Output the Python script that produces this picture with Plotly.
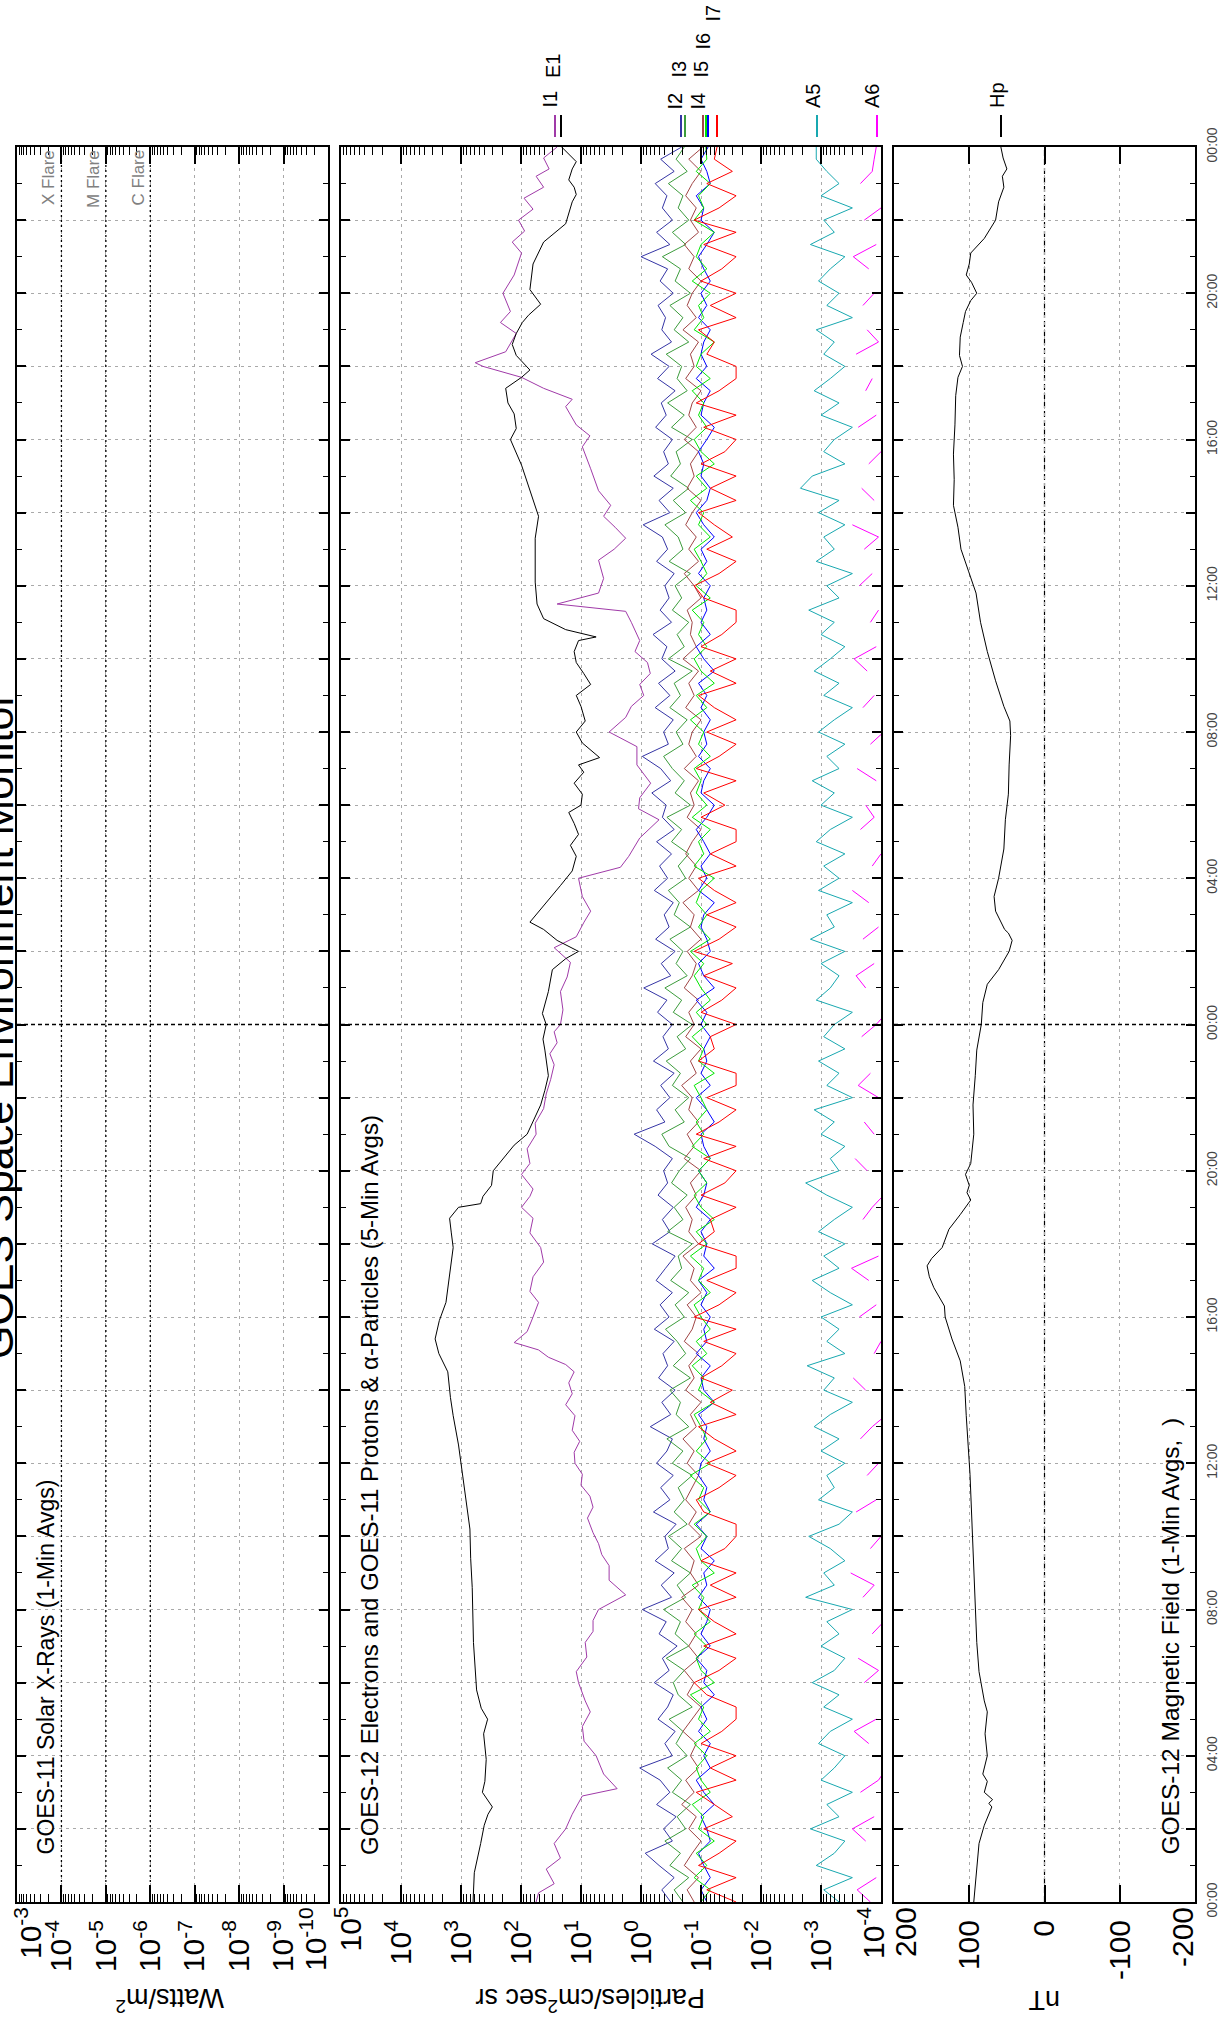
import plotly.graph_objects as go

FONT = "Liberation Sans, Arial, Helvetica, sans-serif"

# ------------------------------------------------------------------ data
# time axis: hours since 00:00 of the first day (two days shown)
t20 = [k / 3 for k in range(145)]          # 20-minute sample times

# GOES-12 E1 electrons (particles/cm2 s sr)
e1_t = [0.0, 0.8, 1.6, 2.1, 2.4, 2.6, 3.0, 3.3, 3.9, 4.6, 5.0, 5.3, 5.8, 6.4, 7.1, 8.6, 9.4,
        10.2, 11.7, 12.5, 13.3, 13.8, 14.5, 15.0, 15.4, 15.9, 16.4, 17.1, 17.9, 18.3, 18.7,
        19.0, 19.1, 19.3, 19.6, 20.0, 20.4, 20.7, 21.0, 21.4, 21.8, 22.2, 22.6, 23.3, 23.6,
        24.0, 24.3, 24.9, 25.5, 25.8, 26.0, 26.3, 26.6, 26.8, 26.9, 27.4, 27.8, 28.2, 28.6,
        28.9, 29.2, 29.5, 29.8, 30.0, 30.3, 30.6, 30.9, 31.1, 31.3, 31.7, 32.0, 32.3, 32.7,
        33.0, 33.3, 33.6, 33.9, 34.2, 34.5, 34.6, 34.8, 35.1, 35.5, 36.1, 36.7, 37.3, 37.9,
        38.6, 39.3, 40.0, 40.3, 40.7, 41.0, 41.4, 41.7, 41.9, 42.3, 42.6, 42.9, 43.2, 43.4,
        43.7, 44.1, 44.8, 45.1, 45.4, 45.9, 46.2, 46.5, 46.7, 46.9, 47.1, 47.4, 47.6, 47.9, 48.0]
e1 = [630, 600, 470, 410, 355, 300, 440, 400, 380, 420, 360, 460, 550, 580, 620, 650, 690,
      710, 930, 1100, 1350, 1500, 1660, 2340, 2700, 2300, 1780, 1550, 1350, 1450, 1550,
      1100, 470, 430, 310, 290, 180, 130, 79, 60, 47, 40, 35, 40, 43,
      38, 44, 35, 30, 18, 11, 25, 42, 71, 63, 35, 22, 14, 12,
      15, 11, 13, 16, 10, 9.5, 13, 9, 11, 4.9, 9.5, 12, 8.5, 10,
      12, 6.9, 9, 12, 13, 11, 5.6, 18, 42, 54, 58, 58, 58, 51,
      71, 98, 150, 120, 130, 165, 180, 98, 71, 120, 140, 120, 95, 75,
      47, 71, 63, 52, 42, 18, 16, 14, 12, 13, 16, 14, 12, 18, 21]

# GOES-11 I1 protons
i1_t = [0.0, 0.25, 0.5, 0.9, 1.2, 1.6, 2.0, 2.4, 2.9, 3.1, 3.5, 4.0, 4.4, 4.8, 5.2, 5.5, 6.0,
        6.3, 6.7, 7.1, 7.4, 7.7, 8.0, 8.4, 8.8, 9.2, 9.5, 9.8, 10.1, 10.5, 10.8, 11.1, 11.4,
        11.7, 12.0, 12.3, 12.6, 12.9, 13.3, 13.6, 13.9, 14.2, 14.5, 14.7, 14.9, 15.1, 15.3,
        15.6, 16.0, 16.4, 16.7, 17.1, 17.5, 17.9, 18.3, 18.7, 19.0, 19.3, 19.5, 19.9, 20.2,
        20.6, 21.0, 21.3, 21.7, 22.1, 22.5, 22.9, 23.2, 23.5, 23.8, 24.0, 24.4, 24.9, 25.3,
        25.7, 26.1, 26.4, 26.8, 27.1, 27.5, 28.0, 28.3, 28.6, 29.1, 29.6, 29.9, 30.2, 30.6,
        31.1, 31.6, 32.0, 32.4, 32.7, 33.0, 33.3, 33.6, 33.9, 34.2, 34.5, 35.0, 35.3, 35.5,
        35.8, 36.2, 36.7, 37.0, 37.3, 37.6, 37.9, 38.2, 38.6, 39.2, 39.8, 40.1, 40.4, 40.9,
        41.1, 41.4, 41.7, 42.0, 42.1, 42.4, 42.9, 43.2, 43.5, 44.0, 44.5, 45.1, 45.4, 45.7,
        46.0, 46.3, 46.6, 46.9, 47.2, 47.4, 47.7, 48.0]
i1 = [56, 51, 28, 38, 22, 28, 18, 14, 9.5, 2.5, 4.2, 5.6, 8.9, 9.5, 7.0, 8.5, 11,
      12, 8.0, 8.5, 6.3, 6.3, 5.1, 1.8, 3.4, 3.4, 4.5, 5.1, 6.3, 7.8, 6.3, 7.1, 10,
      9.5, 12.6, 13, 10.5, 14, 12.6, 18, 14, 16, 13, 18, 35, 51, 130,
      79, 63, 51, 71, 63, 42, 47, 71, 63, 98, 71, 63, 98, 71,
      79, 56, 58, 42, 38, 32, 28, 33, 25, 28, 22, 20, 22, 17,
      15, 28, 12, 8.9, 6.9, 9.5, 11, 2.2, 1.6, 1.05, 0.5, 1.1, 1.05, 0.69,
      1.17, 1.17, 3.4, 1.8, 1.45, 0.9, 1.05, 0.7, 0.78, 1.26, 1.05, 1.45, 1.8, 25,
      5.1, 4.2, 5.1, 2.8, 1.8, 2.7, 4.2, 3.2, 5.1, 6.9, 9.5, 7.1, 12, 18,
      14, 42, 98, 430, 580, 180, 120, 220, 150, 200, 130, 98, 140, 87,
      110, 63, 89, 42, 56, 34, 42, 25]

# GOES-11 I2 .. I7 protons, 20-minute samples
i2 = [0.32, 0.45, 0.28, 0.50, 0.85, 0.30, 0.42, 0.26, 0.55, 0.33, 0.48, 1.05,
      0.30, 0.40, 0.27, 0.52, 0.36, 0.29, 0.60, 0.34, 0.44, 0.25, 0.50, 0.38,
      0.95, 0.31, 0.46, 0.28, 0.58, 0.35, 0.40, 0.26, 0.62, 0.33, 0.47, 0.29,
      0.55, 0.37, 0.30, 0.70, 0.32, 0.45, 0.27, 0.51, 0.36, 0.43, 0.28, 0.60,
      0.34, 0.48, 0.30, 0.56, 0.39, 0.27, 0.65, 0.33, 0.44, 0.29, 0.52, 0.36,
      0.42, 0.30, 0.58, 1.30, 0.40, 0.55, 0.33, 0.47, 0.28, 0.62, 0.35, 0.43,
      0.30, 0.53, 0.37, 0.90, 0.32, 0.46, 0.27, 0.57, 0.34, 0.41, 0.29, 0.60,
      0.36, 0.49, 0.31, 0.55, 0.28, 0.44, 0.38, 0.66, 0.32, 0.47, 0.95, 0.35,
      0.42, 0.29, 0.58, 0.33, 0.51, 0.27, 0.45, 0.37, 0.63, 0.31, 0.48, 0.34,
      0.40, 0.28, 0.55, 0.36, 0.44, 0.92, 0.33, 0.50, 0.29, 0.61, 0.35, 0.42,
      0.30, 0.57, 0.38, 0.46, 0.27, 0.53, 0.34, 0.68, 0.31, 0.45, 0.39, 0.52,
      0.29, 0.48, 0.36, 1.00, 0.33, 0.55, 0.30, 0.44, 0.37, 0.58, 0.28, 0.47,
      0.21]
i3 = [0.20, 0.28, 0.16, 0.33, 0.22, 0.40, 0.18, 0.25, 0.15, 0.30, 0.21, 0.36,
      0.17, 0.26, 0.20, 0.34, 0.14, 0.24, 0.29, 0.19, 0.38, 0.16, 0.27, 0.22,
      0.42, 0.18, 0.25, 0.15, 0.31, 0.21, 0.35, 0.17, 0.28, 0.19, 0.24, 0.14,
      0.30, 0.20, 0.37, 0.16, 0.26, 0.22, 0.33, 0.15, 0.29, 0.18, 0.25, 0.39,
      0.19, 0.27, 0.16, 0.32, 0.21, 0.24, 0.14, 0.36, 0.20, 0.28, 0.17, 0.31,
      0.23, 0.15, 0.34, 0.45, 0.19, 0.27, 0.16, 0.30, 0.22, 0.38, 0.18, 0.25,
      0.14, 0.29, 0.21, 0.40, 0.17, 0.26, 0.20, 0.33, 0.15, 0.28, 0.23, 0.35,
      0.18, 0.24, 0.16, 0.31, 0.21, 0.37, 0.15, 0.27, 0.19, 0.30, 0.42, 0.20,
      0.26, 0.17, 0.33, 0.22, 0.28, 0.14, 0.35, 0.19, 0.25, 0.16, 0.30, 0.21,
      0.27, 0.15, 0.34, 0.20, 0.24, 0.40, 0.18, 0.29, 0.16, 0.32, 0.22, 0.26,
      0.14, 0.31, 0.19, 0.36, 0.17, 0.25, 0.21, 0.38, 0.16, 0.28, 0.20, 0.33,
      0.15, 0.27, 0.22, 0.44, 0.18, 0.30, 0.16, 0.24, 0.20, 0.35, 0.17, 0.26,
      0.19]
i4 = [0.13, 0.17, 0.11, 0.19, 0.14, 0.10, 0.16, 0.12, 0.21, 0.13, 0.18, 0.11,
      0.15, 0.12, 0.20, 0.14, 0.10, 0.17, 0.13, 0.19, 0.11, 0.16, 0.12, 0.18,
      0.14, 0.21, 0.11, 0.15, 0.13, 0.19, 0.10, 0.16, 0.12, 0.18, 0.14, 0.11,
      0.17, 0.13, 0.20, 0.12, 0.15, 0.10, 0.18, 0.13, 0.16, 0.11, 0.19, 0.14,
      0.12, 0.17, 0.10, 0.15, 0.13, 0.20, 0.11, 0.16, 0.14, 0.18, 0.12, 0.15,
      0.10, 0.19, 0.13, 0.17, 0.11, 0.16, 0.14, 0.21, 0.12, 0.15, 0.10, 0.18,
      0.13, 0.16, 0.11, 0.19, 0.14, 0.12, 0.17, 0.10, 0.15, 0.13, 0.20, 0.11,
      0.16, 0.12, 0.18, 0.14, 0.10, 0.17, 0.13, 0.15, 0.11, 0.19, 0.12, 0.16,
      0.14, 0.10, 0.18, 0.13, 0.16, 0.11, 0.20, 0.12, 0.15, 0.14, 0.17, 0.10,
      0.13, 0.19, 0.11, 0.16, 0.12, 0.18, 0.14, 0.10, 0.17, 0.13, 0.15, 0.11,
      0.19, 0.12, 0.16, 0.14, 0.10, 0.18, 0.13, 0.15, 0.11, 0.20, 0.12, 0.17,
      0.14, 0.10, 0.16, 0.13, 0.19, 0.11, 0.15, 0.12, 0.18, 0.14, 0.10, 0.16,
      0.093]
i5 = [0.10, 0.07, 0.13, 0.08, 0.12, 0.06, 0.11, 0.09, 0.14, 0.07, 0.10, 0.12,
      0.08, 0.13, 0.07, 0.11, 0.09, 0.15, 0.06, 0.10, 0.12, 0.08, 0.13, 0.07,
      0.11, 0.09, 0.14, 0.06, 0.10, 0.12, 0.08, 0.13, 0.07, 0.11, 0.09, 0.15,
      0.07, 0.12, 0.08, 0.10, 0.13, 0.06, 0.11, 0.09, 0.14, 0.08, 0.12, 0.07,
      0.10, 0.13, 0.07, 0.11, 0.09, 0.15, 0.08, 0.12, 0.06, 0.10, 0.13, 0.08,
      0.11, 0.07, 0.14, 0.09, 0.12, 0.08, 0.10, 0.13, 0.06, 0.11, 0.09, 0.14,
      0.08, 0.12, 0.07, 0.10, 0.13, 0.09, 0.15, 0.07, 0.11, 0.08, 0.12, 0.10,
      0.06, 0.13, 0.09, 0.11, 0.07, 0.14, 0.08, 0.12, 0.10, 0.13, 0.07, 0.11,
      0.09, 0.15, 0.08, 0.12, 0.06, 0.10, 0.13, 0.08, 0.11, 0.09, 0.14, 0.07,
      0.12, 0.08, 0.10, 0.13, 0.07, 0.11, 0.09, 0.15, 0.08, 0.12, 0.06, 0.10,
      0.13, 0.08, 0.11, 0.09, 0.14, 0.07, 0.12, 0.10, 0.06, 0.13, 0.09, 0.11,
      0.07, 0.14, 0.08, 0.12, 0.10, 0.06, 0.13, 0.09, 0.11, 0.07, 0.12, 0.08,
      0.083]
i6 = [0.08, 0.10, 0.07, 0.09, 0.11, 0.07, 0.08, 0.10, 0.06, 0.09, 0.12, 0.07,
      0.09, 0.07, 0.11, 0.08, 0.10, 0.06, 0.09, 0.08, 0.12, 0.07, 0.10, 0.08,
      0.07, 0.11, 0.08, 0.09, 0.06, 0.10, 0.08, 0.12, 0.07, 0.09, 0.08, 0.11,
      0.10, 0.07, 0.09, 0.08, 0.11, 0.06, 0.09, 0.10, 0.07, 0.12, 0.08, 0.09,
      0.07, 0.10, 0.08, 0.11, 0.06, 0.09, 0.08, 0.10, 0.07, 0.12, 0.09, 0.08,
      0.11, 0.07, 0.09, 0.10, 0.06, 0.08, 0.12, 0.07, 0.10, 0.08, 0.09, 0.07,
      0.10, 0.08, 0.12, 0.06, 0.09, 0.11, 0.07, 0.08, 0.10, 0.09, 0.06, 0.11,
      0.08, 0.10, 0.07, 0.09, 0.12, 0.08, 0.06, 0.10, 0.09, 0.07, 0.11, 0.08,
      0.09, 0.07, 0.10, 0.08, 0.11, 0.06, 0.09, 0.12, 0.07, 0.10, 0.08, 0.09,
      0.07, 0.11, 0.08, 0.10, 0.06, 0.09, 0.12, 0.08, 0.07, 0.10, 0.09, 0.11,
      0.08, 0.06, 0.10, 0.09, 0.07, 0.12, 0.08, 0.10, 0.09, 0.07, 0.11, 0.08,
      0.10, 0.07, 0.09, 0.11, 0.08, 0.06, 0.10, 0.09, 0.12, 0.07, 0.08, 0.10,
      0.076]
i7 = [0.026, 0.08, 0.026, 0.11, 0.05, 0.026, 0.09, 0.03, 0.06, 0.12, 0.026, 0.07,
      0.026, 0.10, 0.045, 0.026, 0.026, 0.08, 0.13, 0.05, 0.026, 0.09, 0.026, 0.06,
      0.11, 0.026, 0.07, 0.026, 0.10, 0.04, 0.026, 0.026, 0.09, 0.12, 0.05, 0.026,
      0.08, 0.026, 0.06, 0.11, 0.026, 0.07, 0.03, 0.10, 0.045, 0.026, 0.09, 0.026,
      0.13, 0.05, 0.026, 0.08, 0.026, 0.026, 0.11, 0.06, 0.07, 0.026, 0.10, 0.04,
      0.026, 0.09, 0.026, 0.12, 0.05, 0.026, 0.08, 0.026, 0.026, 0.11, 0.06, 0.07,
      0.026, 0.10, 0.045, 0.026, 0.09, 0.03, 0.13, 0.05, 0.026, 0.08, 0.026, 0.06,
      0.11, 0.026, 0.07, 0.026, 0.026, 0.10, 0.04, 0.09, 0.026, 0.12, 0.05, 0.026,
      0.08, 0.026, 0.06, 0.11, 0.026, 0.07, 0.026, 0.10, 0.045, 0.026, 0.026, 0.09,
      0.13, 0.05, 0.026, 0.08, 0.03, 0.06, 0.11, 0.026, 0.07, 0.026, 0.10, 0.04,
      0.026, 0.09, 0.026, 0.12, 0.05, 0.026, 0.026, 0.08, 0.06, 0.11, 0.026, 0.07,
      0.026, 0.10, 0.045, 0.026, 0.09, 0.026, 0.13, 0.05, 0.026, 0.08, 0.03, 0.06,
      0.054]

# GOES-11 A5 / A6 alpha particles, 20-minute samples (None = no data)
a5 = [5e-4, 9e-4, 3e-4, 12e-4, 6e-4, 4e-4, 15e-4, 5e-4, 8e-4, 3e-4, 10e-4, 6e-4,
      4e-4, 11e-4, 7e-4, 3e-4, 9e-4, 5e-4, 14e-4, 6e-4, 4e-4, 10e-4, 5e-4, 8e-4,
      3e-4, 18e-4, 6e-4, 9e-4, 4e-4, 7e-4, 16e-4, 5e-4, 3e-4, 11e-4, 6e-4, 8e-4,
      4e-4, 10e-4, 5e-4, 13e-4, 7e-4, 3e-4, 9e-4, 6e-4, 17e-4, 4e-4, 8e-4, 5e-4,
      10e-4, 3e-4, 7e-4, 14e-4, 5e-4, 9e-4, 4e-4, 11e-4, 6e-4, 3e-4, 8e-4, 18e-4,
      5e-4, 7e-4, 4e-4, 10e-4, 6e-4, 13e-4, 3e-4, 8e-4, 5e-4, 11e-4, 4e-4, 9e-4,
      6e-4, 3e-4, 12e-4, 7e-4, 5e-4, 10e-4, 4e-4, 15e-4, 6e-4, 8e-4, 3e-4, 11e-4,
      5e-4, 9e-4, 4e-4, 12e-4, 7e-4, 3e-4, 10e-4, 6e-4, 14e-4, 5e-4, 8e-4, 4e-4,
      11e-4, 6e-4, 3e-4, 9e-4, 5e-4, 13e-4, 7e-4, 4e-4, 10e-4, 6e-4, 16e-4, 5e-4,
      8e-4, 3e-4, 12e-4, 6e-4, 9e-4, 4e-4, 11e-4, 5e-4, 22e-4, 14e-4, 4e-4, 9e-4,
      6e-4, 3e-4, 10e-4, 5e-4, 13e-4, 7e-4, 4e-4, 9e-4, 6e-4, 12e-4, 3e-4, 8e-4,
      5e-4, 11e-4, 7e-4, 4e-4, 15e-4, 6e-4, 9e-4, 3e-4, 10e-4, 5e-4, 8e-4, 12e-4,
      12e-4]
a6 = [1.5e-4, 2.5e-4, 1.2e-4, None, None, 1.8e-4, 3.0e-4, 1.3e-4, None, 2.2e-4, 1.1e-4, 0.8e-4,
      None, 1.6e-4, 2.8e-4, 1.2e-4, None, None, 1.9e-4, 1.1e-4, 2.4e-4, None, 1.4e-4, 0.9e-4,
      None, 2.0e-4, 1.3e-4, 3.2e-4, None, 1.5e-4, 1.0e-4, None, 2.6e-4, 1.2e-4, None, 1.7e-4,
      1.1e-4, None, 2.2e-4, 1.4e-4, 0.8e-4, None, 1.8e-4, 2.9e-4, None, 1.3e-4, 1.0e-4, None,
      2.3e-4, 1.2e-4, None, 1.6e-4, 3.1e-4, 1.1e-4, None, None, 2.0e-4, 1.4e-4, 0.9e-4, None,
      1.7e-4, 2.7e-4, None, 1.3e-4, 1.9e-4, None, 1.1e-4, 2.4e-4, 1.5e-4, None, None, 2.1e-4,
      1.2e-4, 0.8e-4, None, 1.8e-4, 2.6e-4, 1.3e-4, None, 2.0e-4, 1.1e-4, None, 1.6e-4, 3.0e-4,
      None, 1.4e-4, 1.0e-4, None, 2.2e-4, 1.3e-4, 1.8e-4, None, 1.2e-4, 2.5e-4, None, 1.5e-4,
      0.9e-4, None, 2.0e-4, 1.3e-4, None, 1.7e-4, 2.8e-4, 1.2e-4, None, 1.5e-4, 1.1e-4, None,
      2.3e-4, 1.4e-4, None, 1.9e-4, 1.1e-4, 3.0e-4, None, 1.3e-4, 2.1e-4, None, 1.6e-4, 1.0e-4,
      None, 2.4e-4, 1.2e-4, None, 1.8e-4, 1.4e-4, None, 2.6e-4, 1.1e-4, 1.7e-4, None, 2.0e-4,
      1.3e-4, None, 1.6e-4, 2.9e-4, 1.2e-4, None, 1.9e-4, 1.0e-4, None, 2.2e-4, 1.4e-4, 1.3e-4,
      1.2e-4]

# GOES-12 Hp magnetic field (nT)
hp_t = [0.0, 0.9, 1.6, 2.1, 2.4, 2.6, 2.7, 2.8, 3.0, 3.3, 3.5, 4.0, 4.6, 5.2, 5.5, 6.3, 7.1,
        8.6, 10.2, 11.7, 13.3, 14.1, 14.8, 15.4, 16.0, 16.3, 16.8, 17.1, 17.4, 17.6, 17.9,
        18.4, 18.8, 19.2, 19.4, 19.6, 19.9, 20.2, 21.0, 21.8, 22.6, 23.3, 24.0, 24.6, 25.1,
        25.5, 26.0, 26.3, 26.5, 26.6, 27.1, 27.5, 28.0, 28.8, 29.6, 30.3, 31.1, 31.9, 32.3,
        32.7, 33.4, 34.2, 35.0, 35.8, 36.4, 37.0, 37.6, 38.2, 38.9, 39.6, 40.4, 41.2, 41.7,
        42.0, 42.3, 42.8, 43.2, 43.5, 43.8, 44.0, 44.3, 44.5, 44.8, 45.1, 45.5, 46.0, 46.5,
        46.9, 47.2, 47.4, 47.7, 48.0]
hp = [94, 90, 87, 80, 74, 70, 74, 69, 80, 76, 82, 76, 79, 76, 80, 87, 90,
      93, 96, 99, 104, 106, 112, 123, 132, 133, 147, 153, 156, 150, 136,
      127, 112, 98, 103, 100, 105, 98, 94, 95, 92, 90, 84, 82, 76,
      61, 47, 43, 48, 53, 65, 67, 61, 54, 52, 48, 47, 45, 46,
      54, 65, 76, 85, 91, 101, 111, 115, 121, 120, 121, 119, 118, 115,
      109, 113, 112, 108, 105, 98, 90, 97, 104, 100, 98, 80, 65, 61,
      54, 56, 50, 55, 58]

# axis ticks / labels (labels at the frame edges are drawn separately, nudged inside)
xray_ticks = [1e-3, 1e-4, 1e-5, 1e-6, 1e-7, 1e-8, 1e-9, 1e-10]
xray_labels = ["", "10<sup>-4</sup>", "10<sup>-5</sup>", "10<sup>-6</sup>",
               "10<sup>-7</sup>", "10<sup>-8</sup>", "10<sup>-9</sup>", ""]
part_ticks = [1e5, 1e4, 1e3, 1e2, 1e1, 1e0, 1e-1, 1e-2, 1e-3, 1e-4]
part_labels = ["", "10<sup>4</sup>", "10<sup>3</sup>", "10<sup>2</sup>",
               "10<sup>1</sup>", "10<sup>0</sup>", "10<sup>-1</sup>", "10<sup>-2</sup>",
               "10<sup>-3</sup>", ""]
mag_ticks = [200, 100, 0, -100, -200]
mag_labels = ["", "100", "0", "-100", ""]
edge_labels = [("10<sup>-3</sup>", 28), ("10<sup>-10</sup>", 313), ("10<sup>5</sup>", 348),
               ("10<sup>-4</sup>", 871), ("200", 905), ("-200", 1182)]
time_ticks = list(range(0, 49, 2))
time_labels = ["%02d:00" % (h % 24) if h % 4 == 0 else "" for h in time_ticks]
flare_levels = [1e-4, 1e-5, 1e-6]
flare_names = ["X Flare", "M Flare", "C Flare"]

# ------------------------------------------------------------------ geometry helpers
W, H = 1228, 2022
ML, MR, MT, MB = 17, 33, 147, 120
PW, PH = W - ML - MR, H - MT - MB


def px(x):
    return (x - ML) / PW


def py(y):
    return (H - MB - y) / PH


D1 = [px(17), px(328)]
D2 = [px(341), px(881)]
D3 = [px(894), px(1195)]

C = dict(I1="#a03aa8", E1="#000000", I2="#3535a5", I3="#3c9c3c", I4="#a04545",
         I5="#00e600", I6="#0000ff", I7="#ff0000", A5="#18a8b0", A6="#ff00ff", Hp="#000000")

fig = go.Figure()

# X-ray panel: flare threshold lines
for lvl in flare_levels:
    fig.add_trace(go.Scatter(x=[lvl, lvl], y=[0, 48], mode="lines", xaxis="x", yaxis="y",
                             line=dict(color="black", width=1.3, dash="2px,3px"),
                             hoverinfo="skip", showlegend=False))

# particle panel
series = [
    ("I1", i1_t, i1), ("E1", e1_t, e1),
    ("I2", t20, i2), ("I3", t20, i3), ("I4", t20, i4), ("I6", t20, i6),
    ("I5", t20, i5), ("I7", t20, i7), ("A5", t20, a5), ("A6", t20, a6),
]
for name, tt, vv in series:
    fig.add_trace(go.Scatter(x=vv, y=tt, mode="lines", name=name, xaxis="x2", yaxis="y2",
                             line=dict(color=C[name], width=1), connectgaps=False,
                             showlegend=False))

# magnetometer panel
fig.add_trace(go.Scatter(x=hp, y=hp_t, mode="lines", name="Hp", xaxis="x3", yaxis="y3",
                         line=dict(color="black", width=1), showlegend=False))

GRID = "#a9a9a9"
GDASH = "3px,4px"
TICKFONT = dict(size=30, color="black", family=FONT)


def xaxis_common(domain, anchor):
    return dict(domain=domain, anchor=anchor, showline=True, linecolor="black", linewidth=2,
                mirror="ticks", ticks="inside", ticklen=17, tickwidth=1.5, tickcolor="black",
                tickmode="array", tickangle=-90, ticklabelstandoff=4, tickfont=TICKFONT,
                showgrid=True, gridcolor=GRID, griddash=GDASH, gridwidth=1, zeroline=False,
                automargin=False, fixedrange=True)


xa1 = xaxis_common(D1, "y")
xa1.update(type="log", range=[-3, -10], tickvals=xray_ticks, ticktext=xray_labels,
           minor=dict(ticks="inside", ticklen=8, dtick="D1", tickcolor="black", tickwidth=1,
                      showgrid=False))
xa2 = xaxis_common(D2, "y2")
xa2.update(type="log", range=[5, -4], tickvals=part_ticks, ticktext=part_labels,
           minor=dict(ticks="inside", ticklen=8, dtick="D1", tickcolor="black", tickwidth=1,
                      showgrid=False))
xa3 = xaxis_common(D3, "y3")
xa3.update(type="linear", range=[200, -200], tickvals=mag_ticks, ticktext=mag_labels)


def yaxis_common(anchor):
    return dict(domain=[0, 1], anchor=anchor, range=[0, 48], showline=True, linecolor="black",
                linewidth=2, mirror="ticks", ticks="inside", ticklen=9, tickwidth=1.5,
                tickcolor="black", tickmode="array", tickvals=time_ticks,
                showgrid=True, gridcolor=GRID, griddash=GDASH, gridwidth=1, zeroline=False,
                minor=dict(ticks="inside", ticklen=5, dtick=1, tick0=0, tickcolor="black",
                           tickwidth=1, showgrid=False),
                showticklabels=False, automargin=False, fixedrange=True)


ya1 = yaxis_common("x")
ya2 = yaxis_common("x2")
ya2.update(matches="y")
ya3 = yaxis_common("x3")
ya3.update(matches="y", side="right", showticklabels=True, ticktext=time_labels,
           tickangle=-90, ticklabelstandoff=3,
           tickfont=dict(size=14, color="#444444", family=FONT))

shapes = []
# midnight separator (darker dashed) across the three panels
for xr in ["x domain", "x2 domain", "x3 domain"]:
    shapes.append(dict(type="line", xref=xr, yref="y", x0=0, x1=1, y0=24, y1=24,
                       line=dict(color="black", width=1.3, dash="4px,3px"), layer="above"))
# zero line of the magnetometer panel
shapes.append(dict(type="line", xref="x3", yref="y3 domain", x0=0, x1=0, y0=0, y1=1,
                   line=dict(color="black", width=1.2, dash="6px,3px"), layer="below"))

annotations = []
# page title (cut off at the left edge)
annotations.append(dict(text="GOES Space Environment Monitor", xref="paper", yref="paper",
                        x=px(24), y=py(1026), xanchor="right", yanchor="middle",
                        textangle=-90, showarrow=False,
                        font=dict(size=43, color="black", family=FONT)))
# panel titles
panel_titles = [
    ("GOES-11 Solar X-Rays (1-Min Avgs)", 45, 23),
    ("GOES-12 Electrons and GOES-11 Protons &amp; α-Particles (5-Min Avgs)", 369, 24),
    ("GOES-12 Magnetic Field (1-Min Avgs,  )", 1170, 24.5),
]
for txt, xc, fs in panel_titles:
    annotations.append(dict(text=txt, xref="paper", yref="paper", x=px(xc), y=py(1857),
                            xanchor="center", yanchor="bottom", textangle=-90, showarrow=False,
                            font=dict(size=fs, color="black", family=FONT)))
# flare labels
for lvl_x, name in zip([60, 104.5, 149], flare_names):
    annotations.append(dict(text=name, xref="paper", yref="paper", x=px(lvl_x), y=py(148),
                            xanchor="right", yanchor="top", textangle=-90, showarrow=False,
                            font=dict(size=17, color="#808080", family=FONT)))
# tick labels at the frame edges, nudged inside the panels
for txt, xc in edge_labels:
    annotations.append(dict(text=txt, xref="paper", yref="paper", x=px(xc), y=py(1905),
                            xanchor="center", yanchor="top", textangle=-90, showarrow=False,
                            font=TICKFONT))
# axis titles (upside down)
for txt, xc in [("Watts/m<sup>2</sup>", 170), ("Particles/cm<sup>2</sup>sec sr", 590),
                ("nT", 1044)]:
    annotations.append(dict(text=txt, xref="paper", yref="paper", x=px(xc), y=py(2000),
                            xanchor="center", yanchor="middle", textangle=180, showarrow=False,
                            font=dict(size=27, color="black", family=FONT)))

# legend: coloured stubs with rotated labels above the panels
legend = [
    ("I1", 555, 550, 108), ("E1", 561, 553, 78),
    ("I2", 681, 674, 110), ("I3", 685, 679, 78),
    ("I4", 703, 697, 110), ("I5", 706, 701, 78),
    ("I6", 708, 703, 50), ("I7", 717, 712, 22),
    ("A5", 817, 813, 108), ("A6", 877, 872, 108), ("Hp", 1001, 997, 108),
]
for name, lx, tx, tb in legend:
    shapes.append(dict(type="line", xref="paper", yref="paper", x0=px(lx), x1=px(lx),
                       y0=py(137), y1=py(115), line=dict(color=C[name], width=2)))
    annotations.append(dict(text=name, xref="paper", yref="paper", x=px(tx), y=py(tb + 2),
                            xanchor="center", yanchor="bottom", textangle=-90, showarrow=False,
                            font=dict(size=20, color="black", family=FONT)))

fig.update_layout(
    width=W, height=H, autosize=False,
    margin=dict(l=ML, r=MR, t=MT, b=MB, pad=0, autoexpand=False),
    paper_bgcolor="white", plot_bgcolor="white",
    font=dict(family=FONT, color="black"),
    xaxis=xa1, xaxis2=xa2, xaxis3=xa3,
    yaxis=ya1, yaxis2=ya2, yaxis3=ya3,
    shapes=shapes, annotations=annotations,
    showlegend=False,
)

fig.write_html("out.html", config={"displayModeBar": False},
               post_script="document.body.style.margin='0';")
